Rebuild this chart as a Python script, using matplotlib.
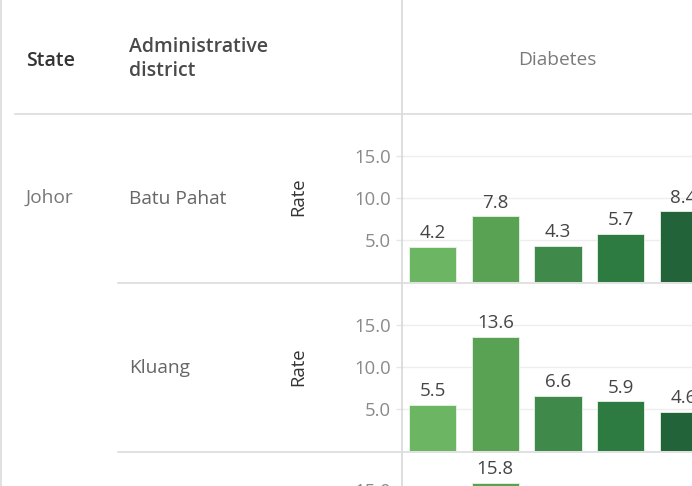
import numpy as np
import matplotlib
matplotlib.use('Agg')
import matplotlib.pyplot as plt
from matplotlib.lines import Line2D

plt.rcParams['font.family'] = ['Open Sans', 'DejaVu Sans']

# data
bar_slots = [0, 1, 2, 3, 4]
state = 'Johor'
districts = ['Batu Pahat', 'Kluang']
rate_batu_pahat = [4.2, 7.8, 4.3, 5.7, 8.4]
rate_kluang = [5.5, 13.6, 6.6, 5.9, 4.6]
rate_next_row = [np.nan, 15.8, np.nan, np.nan, np.nan]  # only this bar shows before the cut
yticks = [5.0, 10.0, 15.0]
measure = 'Diabetes'

bar_colors = ['#6cb563', '#5aa253', '#3f8a4b', '#2d7b41', '#226339']

W, H = 692, 486
fig = plt.figure(figsize=(W / 100, H / 100), dpi=100)


def fx(x):
    return x / W


def fy(y):
    return 1 - y / H


def hline(y, x0, x1, c='#dcdcdc', lw=1.2):
    fig.add_artist(Line2D([fx(x0), fx(x1)], [fy(y), fy(y)], color=c, lw=lw,
                          transform=fig.transFigure))


def vline(x, y0, y1, c='#dcdcdc', lw=1.2):
    fig.add_artist(Line2D([fx(x), fx(x)], [fy(y0), fy(y1)], color=c, lw=lw,
                          transform=fig.transFigure))


def panel(top, bottom, values):
    ax = fig.add_axes([fx(403), fy(bottom), fx(713) - fx(403), fy(top) - fy(bottom)])
    ax.patch.set_alpha(0)
    ax.bar(bar_slots, values, width=0.75, color=bar_colors,
           edgecolor='#e8f3e6', linewidth=0.6, zorder=3)
    for x, v in zip(bar_slots, values):
        if np.isnan(v):
            continue
        ax.annotate(f'{v:.1f}', (x, v), xytext=(0, 3.5), textcoords='offset points',
                    ha='center', va='bottom', fontsize=13.5, color='#454545')
    ax.set_xlim(-0.47, 4.47)
    ax.set_ylim(0, (bottom - top) / 8.4)
    ax.set_yticks(yticks)
    ax.set_yticklabels([f'{t:.1f}' for t in yticks])
    ax.tick_params(axis='y', length=5, color='#e6e6e6', width=1, pad=3.5,
                   labelsize=13.3, labelcolor='#8a8a8a')
    ax.set_xticks([])
    ax.grid(axis='y', color='#eeeeee', lw=1, zorder=0)
    for s in ax.spines.values():
        s.set_visible(False)
    return ax


panel(115, 282, rate_batu_pahat)
panel(284, 451, rate_kluang)
panel(453, 616, rate_next_row)

# table lines
vline(1.5, 0, H)
vline(402, 0, H, c='#d8d8d8')
hline(114, 15, W)
hline(283, 118, W)
hline(452, 118, W)

# header texts
fig.text(fx(26), fy(61), 'State', fontsize=14, fontweight='semibold',
         color='#333333', va='center', ha='left')
fig.text(fx(129), fy(59), 'Administrative\ndistrict', fontsize=14,
         fontweight='semibold', color='#4a4a4a', va='center', ha='left',
         linespacing=1.25)
fig.text(fx(557), fy(60), measure, fontsize=13.8, color='#7a7a7a',
         va='center', ha='center')

# row texts
fig.text(fx(26), fy(198), state, fontsize=13.8, color='#777777', va='center')
fig.text(fx(129), fy(199), districts[0], fontsize=13.8, color='#666666', va='center')
fig.text(fx(129), fy(368), districts[1], fontsize=13.8, color='#666666', va='center')
for yc in (197, 367):
    fig.text(fx(298), fy(yc), 'Rate', fontsize=13.3, color='#333333',
             rotation=90, va='center', ha='center')

fig.savefig('out.png', dpi=100)
